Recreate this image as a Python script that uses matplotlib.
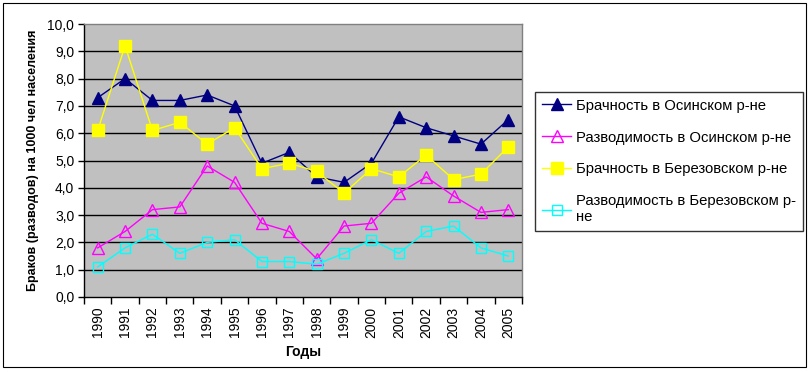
import matplotlib
matplotlib.use("Agg")
import matplotlib.pyplot as plt
from matplotlib.patches import Rectangle
from matplotlib.ticker import FixedLocator, FuncFormatter

plt.rcParams["font.family"] = ["Liberation Sans", "DejaVu Sans"]

# -- Data --
years = [str(y) for y in range(1990, 2006)]
marr_osa = [7.3, 8.0, 7.2, 7.2, 7.4, 7.0, 4.9, 5.3, 4.4, 4.2, 4.9, 6.6, 6.2, 5.9, 5.6, 6.5]
div_osa = [1.8, 2.4, 3.2, 3.3, 4.8, 4.2, 2.7, 2.4, 1.4, 2.6, 2.7, 3.8, 4.4, 3.7, 3.1, 3.2]
marr_ber = [6.1, 9.2, 6.1, 6.4, 5.6, 6.2, 4.7, 4.9, 4.6, 3.8, 4.7, 4.4, 5.2, 4.3, 4.5, 5.5]
div_ber = [1.1, 1.8, 2.3, 1.6, 2.0, 2.1, 1.3, 1.3, 1.2, 1.6, 2.1, 1.6, 2.4, 2.6, 1.8, 1.5]

labels = ["Брачность в Осинском р-не",
          "Разводимость в Осинском р-не",
          "Брачность в Березовском р-не",
          "Разводимость в Березовском р-\nне"]

W, H = 812, 372
fig = plt.figure(figsize=(W / 100, H / 100), dpi=100)
fig.patch.set_facecolor("white")

# outer chart border
fig.add_artist(Rectangle((3 / W, 5 / H), 803 / W, 364 / H, transform=fig.transFigure,
                         fill=False, edgecolor="black", linewidth=0.8))

ax = fig.add_axes([84 / W, (H - 297) / H, (522 - 84) / W, (297 - 24) / H])
ax.set_facecolor("#C0C0C0")

x = list(range(len(years)))
l1, = ax.plot(x, marr_osa, color="#000080", lw=1, marker="^", ms=8,
              mfc="#000080", mec="#000080")
l2, = ax.plot(x, div_osa, color="#FF00FF", lw=1, marker="^", ms=8,
              mfc="none", mec="#FF00FF", mew=1)
l3, = ax.plot(x, marr_ber, color="#FFFF00", lw=1, marker="s", ms=8.5,
              mfc="#FFFF00", mec="#FFFF00")
l4, = ax.plot(x, div_ber, color="#00FFFF", lw=1, marker="s", ms=7,
              mfc="none", mec="#00FFFF", mew=1)

ax.set_xlim(-0.5, len(years) - 0.5)
ax.set_ylim(0, 10)
ax.yaxis.set_major_locator(FixedLocator([i for i in range(11)]))
ax.yaxis.set_major_formatter(FuncFormatter(lambda v, p: f"{v:.1f}".replace(".", ",")))
for v in range(1, 10):
    ax.axhline(v, color="black", lw=1, zorder=0.5)

ax.set_xticks(x)
ax.set_xticklabels(years, rotation=90)
ax.xaxis.set_minor_locator(FixedLocator([i - 0.5 for i in range(len(years) + 1)]))
ax.tick_params(axis="x", which="major", length=0, pad=7, labelsize=10)
ax.tick_params(axis="x", which="minor", length=5, width=1, color="black", direction="out")
ax.tick_params(axis="y", length=4, width=1, direction="out", labelsize=10, pad=3)

for s in ["top", "right"]:
    ax.spines[s].set_color("#808080")
    ax.spines[s].set_linewidth(1)
for s in ["left", "bottom"]:
    ax.spines[s].set_color("black")
    ax.spines[s].set_linewidth(1)

ax.set_xlabel("Годы", fontsize=10, fontweight="bold", labelpad=5)
ax.set_ylabel("Браков (разводов) на 1000 чел населения", fontsize=9,
              fontweight="bold", labelpad=6)

leg = fig.legend([l1, l2, l3, l4], labels, loc="upper left",
                 bbox_to_anchor=(535 / W, (H - 92) / H), fontsize=10.7,
                 frameon=True, fancybox=False, edgecolor="black",
                 handlelength=2.0, labelspacing=1.2, borderpad=0.45,
                 handletextpad=0.3, borderaxespad=0)
leg.get_frame().set_linewidth(1)

fig.savefig("out.png", dpi=100)
